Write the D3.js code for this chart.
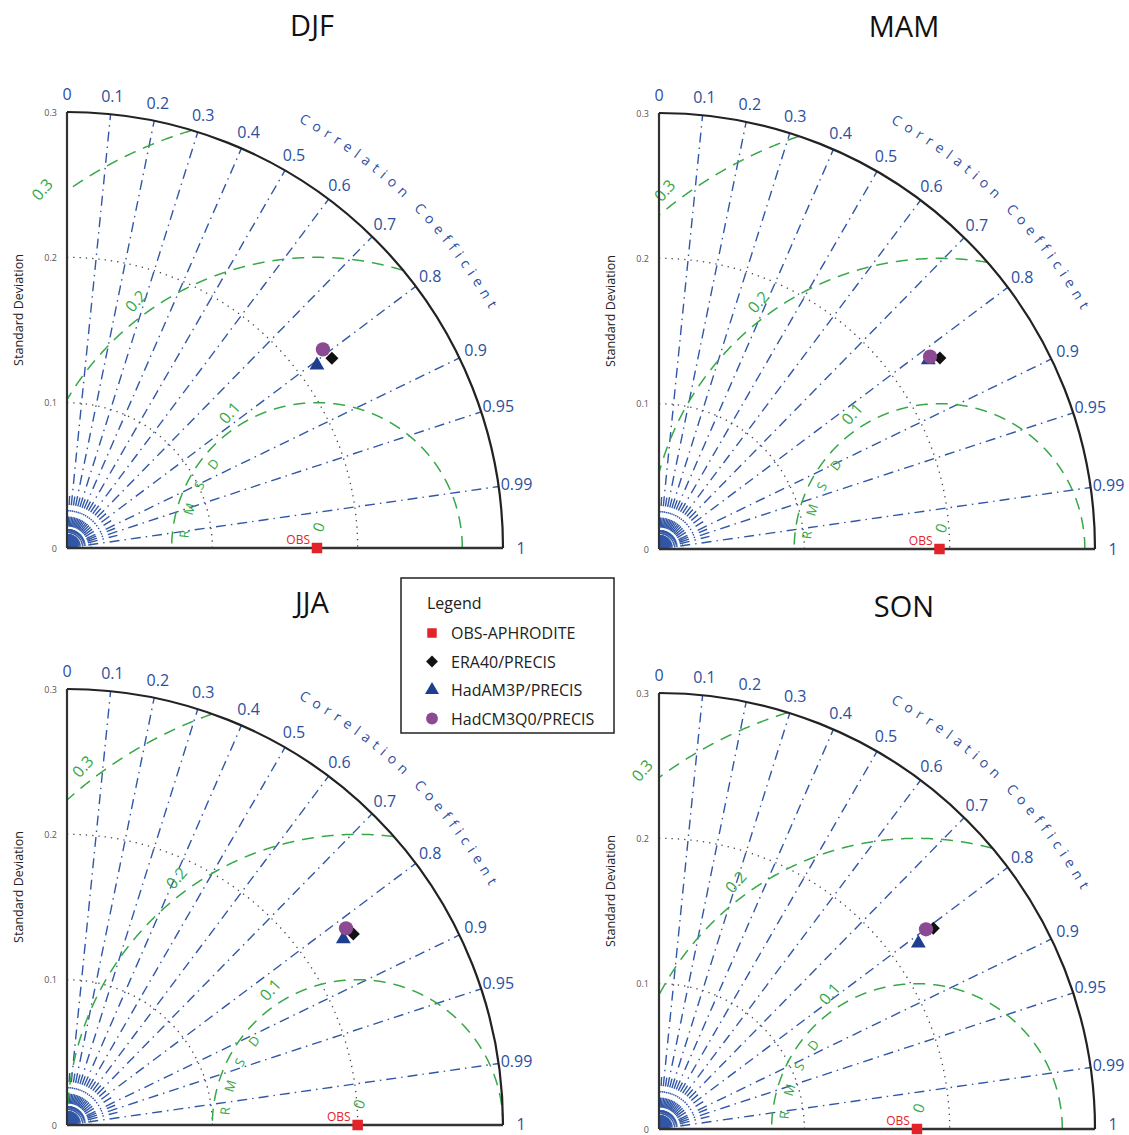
<!DOCTYPE html>
<html><head><meta charset="utf-8">
<script src="https://cdn.jsdelivr.net/npm/d3@7"></script>
<style>
body{margin:0;background:#fff}
svg{display:block}
text{font-family:"Open Sans",sans-serif}
</style>
</head><body>
<svg id="c" width="1129" height="1135"></svg>
<script>
// ---------------- DATA ----------------
const seasons = ["DJF", "MAM", "JJA", "SON"];
const obsStd = [0.172, 0.193, 0.200, 0.1775];
const era40Std = [0.2242, 0.2337, 0.2368, 0.2339];
const era40Corr = [0.813, 0.827, 0.832, 0.807];
const hadam3pStd = [0.2131, 0.2264, 0.2292, 0.2195];
const hadam3pCorr = [0.807, 0.8185, 0.8295, 0.813];
const hadcm3q0Std = [0.2229, 0.2287, 0.2349, 0.2294];
const hadcm3q0Corr = [0.790, 0.8155, 0.8173, 0.8008];

const corrTicks = [0, 0.1, 0.2, 0.3, 0.4, 0.5, 0.6, 0.7, 0.8, 0.9, 0.95, 0.99, 1];
const corrTickLabels = ["0", "0.1", "0.2", "0.3", "0.4", "0.5", "0.6", "0.7", "0.8", "0.9", "0.95", "0.99", "1"];
const corrMinor = [0.05, 0.15, 0.25, 0.35, 0.45, 0.55, 0.65, 0.75, 0.85, 0.925, 0.97];
const corrFine = d3.range(1, 100).map(k => k / 100);
const corrTitle = "Correlation Coefficient";
const stdTicks = [0, 0.1, 0.2, 0.3];
const stdTickLabels = ["0", "0.1", "0.2", "0.3"];
const stdArcs = [0.1, 0.2];
const stdTitle = "Standard Deviation";
const rmsdLevels = [0.1, 0.2, 0.3];
const rmsdLabels = ["0.1", "0.2", "0.3"];
const rmsdTitle = ["R", "M", "S", "D"];
const legendTitle = "Legend";
const legendLabels = ["OBS-APHRODITE", "ERA40/PRECIS", "HadAM3P/PRECIS", "HadCM3Q0/PRECIS"];
const stdMax = 0.3;

// ---------------- STYLE / LAYOUT ----------------
const BLUE = "#3157a6", BLUE_T = "#2d4f9e", GREEN = "#36a847", RED = "#e2232a",
      PURPLE = "#8b4a92", TRI = "#1f3f8e", GREY = "#555";
const W = 1129, H = 1135;
const R = 436;
const origins = [[67, 548], [659, 549], [67, 1125], [659, 1129]];
const rScale = d3.scaleLinear().domain([0, stdMax]).range([0, R]);
const svg = d3.select("#c");

function pt(o, s, c) {
  const th = Math.acos(Math.max(-1, Math.min(1, c)));
  return [o[0] + rScale(s) * Math.cos(th), o[1] - rScale(s) * Math.sin(th)];
}
function xy(o, x, y) { return [o[0] + rScale(x), o[1] - rScale(y)]; }

// measure glyph widths for the curved title
const meas = svg.append("text").attr("font-size", 14).attr("x", -100).attr("y", -100);
const charW = corrTitle.split("").map(ch => {
  meas.text(ch === " " ? "\u00a0" : ch);
  return meas.node().getComputedTextLength();
});
meas.remove();

seasons.forEach((name, i) => {
  const o = origins[i];
  const g = svg.append("g");

  // fine correlation fan near origin
  const rf = rScale.invert(19);
  g.selectAll("line.fine").data(corrFine).join("line").attr("class", "fine")
    .attr("x1", o[0]).attr("y1", o[1])
    .attr("x2", c => pt(o, rf, c)[0]).attr("y2", c => pt(o, rf, c)[1])
    .attr("stroke", BLUE).attr("stroke-width", 0.9).attr("stroke-dasharray", "14,3");
  // minor correlation lines
  const rm = rScale.invert(52);
  g.selectAll("line.minor").data(corrMinor).join("line").attr("class", "minor")
    .attr("x1", o[0]).attr("y1", o[1])
    .attr("x2", c => pt(o, rm, c)[0]).attr("y2", c => pt(o, rm, c)[1])
    .attr("stroke", BLUE).attr("stroke-width", 1.4).attr("stroke-dasharray", "10,5,1.5,5");
  // small dotted inner arc
  {
    const p = d3.path(); const r = 24;
    p.moveTo(o[0], o[1] - r); p.arc(o[0], o[1], r, -Math.PI / 2, 0, false);
    g.append("path").attr("d", p.toString()).attr("fill", "none")
      .attr("stroke", BLUE).attr("stroke-width", 0.8).attr("stroke-dasharray", "1.5,2.5");
  }
  // major correlation lines
  g.selectAll("line.major").data(corrTicks.filter(c => c > 0 && c < 1)).join("line").attr("class", "major")
    .attr("x1", o[0]).attr("y1", o[1])
    .attr("x2", c => pt(o, stdMax, c)[0]).attr("y2", c => pt(o, stdMax, c)[1])
    .attr("stroke", BLUE).attr("stroke-width", 1.4).attr("stroke-dasharray", "10,5,1.5,5");

  // std dotted arcs
  stdArcs.forEach(s => {
    const p = d3.path(); const r = rScale(s);
    p.moveTo(o[0], o[1] - r); p.arc(o[0], o[1], r, -Math.PI / 2, 0, false);
    g.append("path").attr("d", p.toString()).attr("fill", "none")
      .attr("stroke", "#444").attr("stroke-width", 1.3).attr("stroke-dasharray", "1.3,5");
  });

  // RMSD arcs
  const obs = obsStd[i];
  const obsPx = xy(o, obs, 0);
  const line = d3.line();
  const ua = 130 * Math.PI / 180, cu = Math.cos(ua), su = Math.sin(ua), off = 26;
  rmsdLevels.forEach((d, k) => {
    const pts = [];
    for (let a = 0; a <= 180; a += 0.1) {
      const x = obs + d * Math.cos(a * Math.PI / 180), y = d * Math.sin(a * Math.PI / 180);
      if (x >= 0 && x * x + y * y <= stdMax * stdMax) pts.push(xy(o, x, y));
    }
    g.append("path").attr("d", line(pts)).attr("fill", "none")
      .attr("stroke", GREEN).attr("stroke-width", 1.5).attr("stroke-dasharray", "12,8");
    const rho = rScale(d) + 16;
    const t = -off * cu + Math.sqrt(off * off * cu * cu - off * off + rho * rho);
    const lx = obsPx[0] + off + t * cu, ly = obsPx[1] - t * su;
    g.append("text").attr("transform", `translate(${lx},${ly}) rotate(-48)`)
      .attr("text-anchor", "middle").attr("dominant-baseline", "central")
      .attr("font-size", 16).attr("fill", GREEN).text(rmsdLabels[k]);
  });
  // RMSD "0" label
  {
    const lp = xy(o, obs, rScale.invert(21));
    g.append("text").attr("transform", `translate(${lp[0] + 1},${lp[1]}) rotate(-70)`)
      .attr("text-anchor", "middle").attr("dominant-baseline", "central")
      .attr("font-size", 15).attr("fill", GREEN).text("0");
  }
  // RMSD title letters along the 0.1 arc
  const rAngles = [174, 163, 152, 141];
  rmsdTitle.forEach((ch, k) => {
    const a = rAngles[k] * Math.PI / 180, rr = 0.092;
    const lp = xy(o, obs + rr * Math.cos(a), rr * Math.sin(a));
    const rot = Math.atan2(Math.cos(a), Math.sin(a)) * 180 / Math.PI;
    g.append("text").attr("transform", `translate(${lp[0]},${lp[1]}) rotate(${rot})`)
      .attr("text-anchor", "middle").attr("dominant-baseline", "central")
      .attr("font-size", 13).attr("fill", GREEN).text(ch);
  });

  // axes
  g.append("line").attr("x1", o[0]).attr("y1", o[1]).attr("x2", o[0]).attr("y2", o[1] - R)
    .attr("stroke", "#333").attr("stroke-width", 2.2);
  g.append("line").attr("x1", o[0]).attr("y1", o[1]).attr("x2", o[0] + R).attr("y2", o[1])
    .attr("stroke", "#333").attr("stroke-width", 2.4);
  {
    const p = d3.path();
    p.moveTo(o[0], o[1] - R); p.arc(o[0], o[1], R, -Math.PI / 2, 0, false);
    g.append("path").attr("d", p.toString()).attr("fill", "none")
      .attr("stroke", "#222").attr("stroke-width", 2.2);
  }

  // std tick labels
  g.selectAll("text.std").data(stdTicks).join("text").attr("class", "std")
    .attr("x", o[0] - 10).attr("y", s => o[1] - rScale(s))
    .attr("text-anchor", "end").attr("dominant-baseline", "central")
    .attr("font-size", 9).attr("fill", GREY).text((s, k) => stdTickLabels[k]);
  g.append("text").attr("transform", `translate(${o[0] - 49},${o[1] - 238}) rotate(-90)`)
    .attr("text-anchor", "middle").attr("dominant-baseline", "central")
    .attr("font-size", 12.5).attr("fill", "#222").text(stdTitle);

  // correlation labels (the "1" label sits on its baseline, kept inside the page)
  const lr = rScale.invert(R + 18);
  g.selectAll("text.corr").data(corrTicks).join("text").attr("class", "corr")
    .attr("x", c => pt(o, lr, c)[0])
    .attr("y", c => c === 1 ? Math.min(o[1] + 6, H - 5) : pt(o, lr, c)[1])
    .attr("text-anchor", "middle")
    .attr("dominant-baseline", c => c === 1 ? "alphabetic" : "central")
    .attr("font-size", 16).attr("fill", BLUE_T).text((c, k) => corrTickLabels[k]);

  // "Correlation Coefficient" along arc, letter by letter
  {
    const rr = R + 49, a0 = 61.5 * Math.PI / 180, a1 = 29.5 * Math.PI / 180;
    const arcLen = rr * (a0 - a1);
    const natural = d3.sum(charW);
    const sp = (arcLen - natural) / (charW.length - 1);
    let s = 0;
    corrTitle.split("").forEach((ch, k) => {
      const mid = s + charW[k] / 2;
      s += charW[k] + sp;
      if (ch === " ") return;
      const a = a0 - mid / rr;
      const px = o[0] + rr * Math.cos(a), py = o[1] - rr * Math.sin(a);
      g.append("text").attr("transform", `translate(${px},${py}) rotate(${90 - a * 180 / Math.PI})`)
        .attr("text-anchor", "middle").attr("font-size", 14).attr("fill", BLUE_T).text(ch);
    });
  }

  // title
  g.append("text").attr("x", o[0] + 245).attr("y", o[1] - 512)
    .attr("text-anchor", "middle").attr("font-size", 29).attr("fill", "#111").text(name);

  // markers
  g.append("text").attr("x", obsPx[0] - 7).attr("y", obsPx[1] - 4).attr("text-anchor", "end")
    .attr("font-size", 12).attr("fill", RED).text("OBS");
  g.append("path").attr("transform", `translate(${obsPx[0]},${obsPx[1]})`)
    .attr("d", d3.symbol(d3.symbolSquare, 110)()).attr("fill", RED);
  const t = pt(o, hadam3pStd[i], hadam3pCorr[i]);
  g.append("path").attr("transform", `translate(${t[0]},${t[1]})`)
    .attr("d", d3.symbol(d3.symbolTriangle, 95)()).attr("fill", TRI);
  const dm = pt(o, era40Std[i], era40Corr[i]);
  g.append("path").attr("transform", `translate(${dm[0]},${dm[1]}) rotate(45)`)
    .attr("d", d3.symbol(d3.symbolSquare, 85)()).attr("fill", "#111");
  const cc = pt(o, hadcm3q0Std[i], hadcm3q0Corr[i]);
  g.append("path").attr("transform", `translate(${cc[0]},${cc[1]})`)
    .attr("d", d3.symbol(d3.symbolCircle, 160)()).attr("fill", PURPLE);
});

// legend
const lg = svg.append("g").attr("transform", "translate(401,578)");
lg.append("rect").attr("width", 213).attr("height", 155).attr("fill", "#fff")
  .attr("stroke", "#222").attr("stroke-width", 1.5);
lg.append("text").attr("x", 26).attr("y", 31).attr("font-size", 16).attr("fill", "#222").text(legendTitle);
const legSyms = [
  {sym: d3.symbolSquare, size: 90, fill: RED, rot: 0},
  {sym: d3.symbolSquare, size: 70, fill: "#111", rot: 45},
  {sym: d3.symbolTriangle, size: 85, fill: TRI, rot: 0},
  {sym: d3.symbolCircle, size: 110, fill: PURPLE, rot: 0}
];
legendLabels.forEach((lab, k) => {
  const y = 55 + k * 28.5;
  lg.append("path").attr("transform", `translate(31,${y}) rotate(${legSyms[k].rot})`)
    .attr("d", d3.symbol(legSyms[k].sym, legSyms[k].size)()).attr("fill", legSyms[k].fill);
  lg.append("text").attr("x", 50).attr("y", y).attr("dominant-baseline", "central")
    .attr("font-size", 16).attr("fill", "#222").text(lab);
});
</script>
</body></html>
